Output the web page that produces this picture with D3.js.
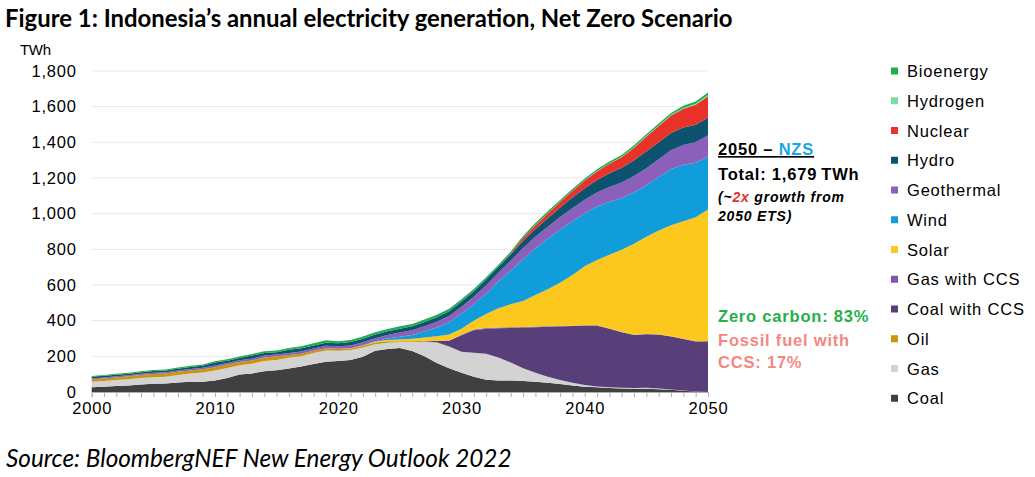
<!DOCTYPE html>
<html><head><meta charset="utf-8">
<script src="https://cdn.jsdelivr.net/npm/d3@7"></script>
<style>body{margin:0;background:#fff} svg{display:block}</style>
</head><body>
<svg id="c" width="1035" height="477"></svg>
<script>
const years = d3.range(2000, 2051);
const yTicks = [0, 200, 400, 600, 800, 1000, 1200, 1400, 1600, 1800];
const xTickLabels = [2000, 2010, 2020, 2030, 2040, 2050];

const coal = [26,29,33,37,42,46,48,53,58,58, 64,78,98,104,116,122,132,143,157,170, 174,180,198,232,241,247,230,200,163,133, 108,86,69,65,64,62,58,52,45,37, 30,26,22,20,18,18,16,12,7,3, 0];
const gas = [32,33,34,35,36,37,38,42,46,52, 57,56,52,55,58,58,60,58,62,63, 57,55,52,36,35,33,50,82,114,121, 118,134,146,128,101,71,50,34,22,15, 9,5,5,4,4,6,4,2,1,0, 0];
const oil = [13,14,15,16,17,18,18,18,17,17, 18,20,18,18,20,20,15,14,12,12, 10,9,9,10,8,5,4,3,2,1, 0,0,0,0,0,0,0,0,0,0, 0,0,0,0,0,0,0,0,0,0, 0];
const coalCCS = [0,0,0,0,0,0,0,0,0,0, 0,0,0,0,0,0,0,0,0,0, 0,0,0,0,0,0,0,2,8,32, 92,126,140,164,194,228,255,280,300,318, 333,341,328,311,298,300,302,297,289,280, 284];
const gasCCS = [0,0,0,0,0,0,0,0,0,0, 0,0,0,0,0,0,0,0,0,0, 0,0,0,0,0,0,0,0,0,2, 3,4,4,4,4,4,4,3,3,2, 2,2,1,1,1,1,1,1,1,1, 1];
const solar = [0,0,0,0,0,0,0,0,0,0, 0,0,0,0,0,0,0,0,0,1, 1,1,2,4,8,10,14,18,25,34, 34,50,79,108,129,145,177,207,243,284, 331,366,414,462,511,545,582,623,660,696, 739];
const wind = [0,0,0,0,0,0,0,0,0,0, 0,0,0,0,0,0,0,0,0,0, 0,0,1,2,8,15,22,35,50,68, 85,92,115,150,190,235,262,283,298,302, 297,300,297,290,288,290,300,315,317,305, 296];
const geothermal = [5,5,6,6,7,7,7,7,8,9, 9,9,10,10,10,10,11,12,13,14, 15,16,17,18,20,23,26,29,32,35, 38,42,46,50,55,62,64,67,70,73, 76,79,83,87,91,95,100,105,110,115, 120];
const hydro = [9,10,9,9,9,10,9,11,11,11, 17,12,12,17,15,13,19,18,17,16, 17,19,20,20,20,21,22,23,25,27, 28,30,32,34,36,40,44,49,54,59, 65,70,76,82,89,95,96,97,98,98, 99];
const nuclear = [0,0,0,0,0,0,0,0,0,0, 0,0,0,0,0,0,0,0,0,0, 0,0,0,0,0,0,0,0,0,0, 0,0,0,0,4,16,21,26,31,37, 43,48,54,60,70,82,90,98,106,113, 120];
const hydrogen = [0,0,0,0,0,0,0,0,0,0, 0,0,0,0,0,0,0,0,0,0, 0,0,0,0,0,0,0,0,0,0, 0,0,0,0,0,1,1,1,1,1, 1,2,2,2,3,3,3,4,4,5, 6];
const bioenergy = [5,5,5,5,6,6,6,7,7,7, 8,8,9,9,9,10,10,11,12,14, 10,12,12,13,13,14,14,14,14,14, 14,13,12,11,11,11,11,11,10,10, 10,10,10,10,10,10,11,11,12,13, 14];

// bottom -> top stacking order
const seriesNames = ["Coal","Gas","Oil","Coal with CCS","Gas with CCS","Solar","Wind","Geothermal","Hydro","Nuclear","Hydrogen","Bioenergy"];
const seriesValues = [coal, gas, oil, coalCCS, gasCCS, solar, wind, geothermal, hydro, nuclear, hydrogen, bioenergy];
const seriesColors = ["#404040","#d3d3d3","#c9960c","#583f7a","#7b58ad","#fdc81d","#119dd9","#8c5fba","#0d5370","#e8322a","#74e0a4","#1fae4b"];

const rows = years.map((y, i) => {
  const r = {year: y};
  seriesNames.forEach((n, k) => r[n] = seriesValues[k][i]);
  return r;
});

const ff = "Liberation Sans, Arial, sans-serif";
const svg = d3.select("#c");
const x = d3.scaleLinear().domain([2000, 2050]).range([91.7, 708]);
const y = d3.scaleLinear().domain([0, 1800]).range([392, 71]);

// gridlines
svg.append("g").selectAll("line").data(yTicks.filter(d => d > 0)).join("line")
  .attr("x1", x(2000)).attr("x2", x(2050))
  .attr("y1", d => y(d)).attr("y2", d => y(d))
  .attr("stroke", "#d0d0d0").attr("stroke-width", 1).attr("stroke-dasharray", "1,1");

// stacked areas
const stack = d3.stack().keys(seriesNames);
const layers = stack(rows);
const area = d3.area().x(d => x(d.data.year)).y0(d => y(d[0])).y1(d => y(d[1]));
svg.append("g").selectAll("path").data(layers).join("path")
  .attr("d", area).attr("fill", (d, i) => seriesColors[i]);

// x axis
const xAxis = d3.axisBottom(x).tickValues(years).tickSize(5).tickFormat(d => xTickLabels.includes(d) ? d : "");
const gx = svg.append("g").attr("transform", `translate(0,${y(0)})`).call(xAxis);
gx.select(".domain").attr("stroke", "#b0b0b0");
gx.selectAll(".tick line").attr("stroke", "#b0b0b0");
gx.selectAll(".tick text").attr("font-family", ff).attr("font-size", 16.5).attr("letter-spacing", 0.8)
  .attr("fill", "#000").attr("dy", "0.85em");

// y axis
const yAxis = d3.axisLeft(y).tickValues(yTicks).tickSize(0).tickPadding(15).tickFormat(d3.format(","));
const gy = svg.append("g").attr("transform", `translate(${x(2000)},0)`).call(yAxis);
gy.select(".domain").remove();
gy.selectAll(".tick text").attr("font-family", ff).attr("font-size", 16.5).attr("letter-spacing", 0.8).attr("fill", "#000");

svg.append("text").attr("x", 20).attr("y", 55).text("TWh")
  .attr("font-family", ff).attr("font-size", 15).attr("letter-spacing", -0.3);

// title & source
function fit(sel, w) {
  const cur = sel.node().getComputedTextLength();
  const fs = parseFloat(sel.attr("font-size"));
  sel.attr("font-size", fs * w / cur);
}
const title = svg.append("text").attr("x", 5).attr("y", 27)
  .attr("font-family", "Lato, 'Open Sans', sans-serif").attr("font-weight", "bold").attr("font-size", 22)
  .text("Figure 1: Indonesia\u2019s annual electricity generation, Net Zero Scenario");
fit(title, 728);

const source = svg.append("text").attr("x", 6).attr("y", 467)
  .attr("font-family", "Lato, 'Open Sans', sans-serif").attr("font-style", "italic").attr("font-size", 20)
  .text("Source: BloombergNEF New Energy Outlook 2022");
fit(source, 506);

// legend (top -> bottom)
const legendNames = seriesNames.slice().reverse();
const legendColors = seriesColors.slice().reverse();
const lg = svg.append("g");
legendNames.forEach((n, i) => {
  const cy = 71 + i * 29.75;
  lg.append("rect").attr("x", 891).attr("y", cy - 3.5).attr("width", 7).attr("height", 7).attr("fill", legendColors[i]);
  lg.append("text").attr("x", 907).attr("y", cy + 6).text(n)
    .attr("font-family", ff).attr("font-size", 16.5).attr("letter-spacing", 0.8).attr("fill", "#000");
});

// annotations
function ann(xp, yp, size, opts) {
  const t = svg.append("text").attr("x", xp).attr("y", yp).attr("font-family", ff)
    .attr("font-weight", "bold").attr("font-size", size).attr("letter-spacing", 0.8);
  if (opts && opts.italic) t.attr("font-style", "italic");
  if (opts && opts.fill) t.attr("fill", opts.fill);
  return t;
}
const a1 = ann(718, 155, 16.5).attr("text-decoration", "underline");
a1.append("tspan").text("2050 \u2013 ").attr("fill", "#000");
a1.append("tspan").text("NZS").attr("fill", "#1aa6e4");

ann(718, 180, 16.5).text("Total: 1,679\u2009TWh");

const a3 = ann(718, 202, 14, {italic: true});
a3.append("tspan").text("(~");
a3.append("tspan").text("2x").attr("fill", "#e8322a");
a3.append("tspan").text(" growth from");
ann(718, 221, 14, {italic: true}).text("2050 ETS)");

ann(718, 322, 16.5, {fill: "#22b04b"}).text("Zero carbon: 83%");
ann(718, 346, 16.5, {fill: "#f4877f"}).text("Fossil fuel with");
ann(718, 368, 16.5, {fill: "#f4877f"}).text("CCS: 17%");
</script>
</body></html>
